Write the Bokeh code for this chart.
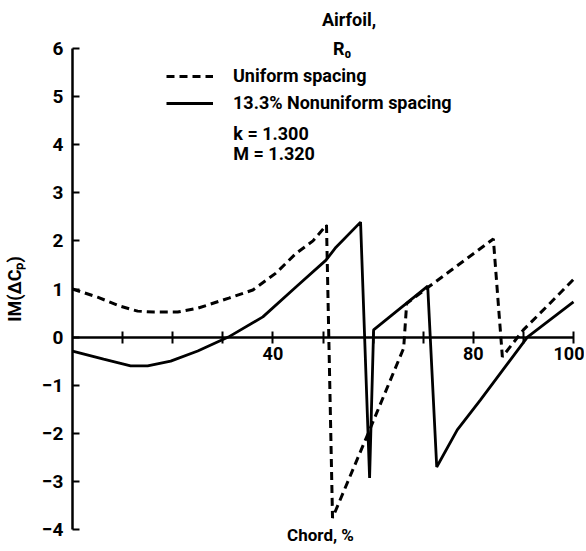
from bokeh.plotting import figure
from bokeh.models import FixedTicker, Legend, LegendItem, Label, LinearAxis, Range1d
from bokeh.embed import file_html
from bokeh.resources import INLINE

# ---- data ----
uniform_x = [0, 5, 9.6, 13, 16.2, 21, 25, 31.2, 36, 40.6, 44.6, 48, 50.7,
             51.9, 59.1, 66.1, 66.7, 70.9, 84, 85.8, 90, 95, 100]
uniform_y = [1.0, 0.83, 0.64, 0.54, 0.52, 0.52, 0.6, 0.81, 0.98, 1.33, 1.74, 2.0, 2.33,
             -3.76, -1.98, -0.23, 0.7, 1.03, 2.04, -0.41, 0.15, 0.67, 1.2]

nonuni_x = [0, 6.2, 11.6, 15, 19.6, 25, 31.1, 38, 44.6, 50.6, 52.6, 57.5,
            59.3, 60.1, 70.9, 72.7, 76.8, 81.4, 90.8, 100]
nonuni_y = [-0.29, -0.46, -0.6, -0.6, -0.5, -0.29, 0.0, 0.42, 1.04, 1.6, 1.87, 2.39,
            -2.93, 0.15, 1.06, -2.7, -1.93, -1.31, 0.0, 0.73]

x_ticks = [10, 20, 30, 40, 50, 60, 70, 80, 90, 100]
x_tick_labels = {10: "", 20: "", 30: "", 40: "40", 50: "", 60: "", 70: "", 80: "80", 90: "", 100: "100"}
y_ticks = [-4, -3, -2, -1, 0, 1, 2, 3, 4, 5, 6]

FONT = "Roboto"

W, H = 584, 548
PX_X, PX_Y = 5.01, 48.1
# frame covers the whole canvas; axes are drawn at fixed locations inside it
x_lo = -72 / PX_X
x_hi = x_lo + W / PX_X
y_hi = 6 + 48 / PX_Y
y_lo = y_hi - H / PX_Y

p = figure(width=W, height=H, x_range=Range1d(x_lo, x_hi), y_range=Range1d(y_lo, y_hi),
           output_backend="svg", toolbar_location=None,
           x_axis_location=None, y_axis_location=None, min_border=0)
p.outline_line_color = None
p.grid.visible = False
p.background_fill_color = "white"
p.border_fill_color = "white"

xa = LinearAxis(fixed_location=0, bounds=(0, 100))
xa.ticker = FixedTicker(ticks=x_ticks)
xa.major_label_overrides = x_tick_labels
xa.axis_line_width = 2.5
xa.axis_line_color = "black"
xa.major_tick_in = 6
xa.major_tick_out = 6
xa.major_tick_line_width = 2
xa.minor_tick_line_color = None
xa.major_label_text_font = FONT
xa.major_label_text_font_style = "bold"
xa.major_label_text_font_size = "18px"
xa.major_label_text_color = "black"
xa.major_label_standoff = 4
p.add_layout(xa, "below")

ya = LinearAxis(fixed_location=0, bounds=(-4, 6))
ya.ticker = FixedTicker(ticks=y_ticks)
ya.axis_line_width = 2.5
ya.axis_line_color = "black"
ya.major_tick_in = 7
ya.major_tick_out = 0
ya.major_tick_line_width = 2
ya.minor_tick_line_color = None
ya.major_label_text_font = FONT
ya.major_label_text_font_style = "bold"
ya.major_label_text_font_size = "19px"
ya.major_label_text_color = "black"
ya.major_label_standoff = 9
ya.axis_label = "IM(ΔCₚ)"
ya.axis_label_text_font = FONT
ya.axis_label_text_font_style = "bold"
ya.axis_label_text_font_size = "18px"
ya.axis_label_text_color = "black"
ya.axis_label_standoff = 14
p.add_layout(ya, "left")

r_u = p.line(uniform_x, uniform_y, line_color="black", line_width=3, line_dash="8 5")
r_n = p.line(nonuni_x, nonuni_y, line_color="black", line_width=2.8)

legend = Legend(items=[LegendItem(label="Uniform spacing", renderers=[r_u]),
                       LegendItem(label="13.3% Nonuniform spacing", renderers=[r_n])],
                location=(166, H - 113), padding=0, margin=0, spacing=6,
                glyph_width=47, glyph_height=20, label_height=20, label_standoff=20,
                label_text_font=FONT, label_text_font_style="bold",
                label_text_font_size="18px", label_text_color="black",
                background_fill_alpha=0, border_line_color=None)
p.add_layout(legend)

def add_label(text, x, y, align="left", baseline="middle", size="18px"):
    p.add_layout(Label(x=x, y=y, text=text, text_font=FONT, text_font_style="bold",
                       text_font_size=size, text_color="black",
                       text_align=align, text_baseline=baseline))

add_label("k = 1.300", 32.1, 4.24)
add_label("M = 1.320", 32.1, 3.82)
add_label("Airfoil,", 55.2, 6.6, align="center")
add_label("R₀", 53.8, 6.0, align="center")
add_label("Chord, %", 49.5, -4.12, align="center", size="17px")

open("out.html", "w").write(file_html(p, INLINE))
